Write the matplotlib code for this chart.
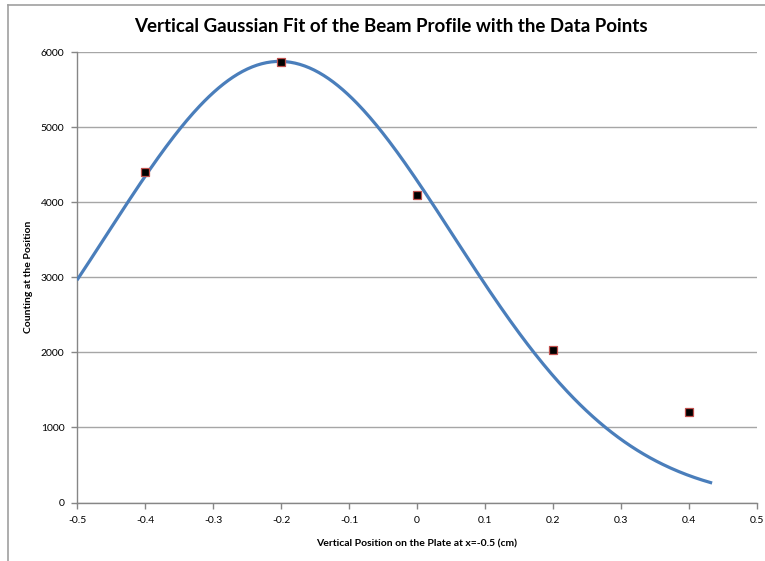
import numpy as np
import matplotlib
matplotlib.use("Agg")
import matplotlib.pyplot as plt
from matplotlib.lines import Line2D

plt.rcParams['font.family'] = ['Lato', 'DejaVu Sans']

# Measured counts at each vertical position
positions = [-0.4, -0.2, 0.0, 0.2, 0.4]
counts = [4400, 5870, 4100, 2030, 1200]

# Gaussian fit parameters
fit_amplitude = 5875.0
fit_mean = -0.202
fit_sigma = 0.2546
fit_range = (-0.5, 0.434)

x_ticks = [-0.5, -0.4, -0.3, -0.2, -0.1, 0, 0.1, 0.2, 0.3, 0.4, 0.5]
x_tick_labels = ['-0.5', '-0.4', '-0.3', '-0.2', '-0.1', '0', '0.1', '0.2', '0.3', '0.4', '0.5']
y_ticks = [0, 1000, 2000, 3000, 4000, 5000, 6000]

fig = plt.figure(figsize=(7.65, 5.61), dpi=100)
ax = fig.add_axes([77 / 765, 1 - 502.5 / 561, 680 / 765, 450.5 / 561])

xf = np.linspace(fit_range[0], fit_range[1], 400)
yf = fit_amplitude * np.exp(-(xf - fit_mean) ** 2 / (2 * fit_sigma ** 2))
ax.plot(xf, yf, color='#4a7ebb', lw=2.3, solid_capstyle='butt', zorder=3)

ax.plot(positions, counts, linestyle='none', marker='s', markersize=6.0,
        markerfacecolor='black', markeredgecolor='#c0504d', markeredgewidth=0.9,
        zorder=4)

ax.set_xlim(-0.5, 0.5)
ax.set_ylim(0, 6000)
ax.set_xticks(x_ticks)
ax.set_xticklabels(x_tick_labels)
ax.set_yticks(y_ticks)
ax.yaxis.grid(True, color='#a6a6a6', lw=1.0)
ax.set_axisbelow(True)

for side in ('top', 'right'):
    ax.spines[side].set_visible(False)
for side in ('left', 'bottom'):
    ax.spines[side].set_color('#868686')
    ax.spines[side].set_linewidth(1.0)

ax.tick_params(axis='both', colors='#868686', labelcolor='black', labelsize=7.5,
               length=4, width=1.0, direction='out')
ax.tick_params(axis='x', pad=6)
ax.tick_params(axis='y', pad=5)

ax.set_xlabel('Vertical Position on the Plate at x=-0.5 (cm)', fontsize=7.5,
              fontweight='bold', labelpad=10)
ax.set_ylabel('Counting at the Position', fontsize=7.5, fontweight='bold', labelpad=6)

fig.text(391 / 765, 1 - 26 / 561, 'Vertical Gaussian Fit of the Beam Profile with the Data Points',
         ha='center', va='center', fontsize=13.5, fontweight='bold')

# Chart area border
fig.add_artist(Line2D([8 / 765, 1], [1 - 5 / 561, 1 - 5 / 561], color='#a0a0a0', lw=1.2))
fig.add_artist(Line2D([8 / 765, 8 / 765], [0, 1 - 5 / 561], color='#a0a0a0', lw=1.2))

fig.savefig('out.png', dpi=100)
